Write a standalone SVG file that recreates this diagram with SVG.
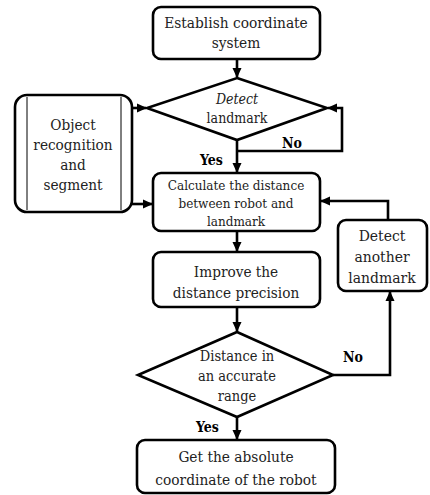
<svg xmlns="http://www.w3.org/2000/svg" width="430" height="495" viewBox="0 0 430 495">
<style>
.box{fill:#fff;stroke:#000;stroke-width:2.6}
text{font-family:'DejaVu Serif Condensed','DejaVu Serif',serif;font-stretch:condensed}
.t{font-size:14px;fill:#222;text-anchor:middle}
.it{font-style:italic}
.lbl{font-size:14px;font-weight:bold;fill:#000}
.c{fill:none;stroke:#000;stroke-width:2.6}
</style>
<defs>
<marker id="ah" markerUnits="userSpaceOnUse" markerWidth="10" markerHeight="10" refX="9" refY="5" orient="auto">
<path d="M0,0.5 L10,5 L0,9.5 z" fill="#000"/>
</marker>
</defs>
<rect width="430" height="495" fill="#fff"/>
<g id="connectors">
<path class="c" d="M237,59 V77" marker-end="url(#ah)"/>
<path class="c" d="M237,140 V172" marker-end="url(#ah)"/>
<path class="c" d="M237,151 H342 V108 H328" marker-end="url(#ah)"/>
<path class="c" d="M132,108 H146" marker-end="url(#ah)"/>
<path class="c" d="M132,204 H152" marker-end="url(#ah)"/>
<path class="c" d="M237,231 V251" marker-end="url(#ah)"/>
<path class="c" d="M388,220 V201 H321" marker-end="url(#ah)"/>
<path class="c" d="M237,307 V331" marker-end="url(#ah)"/>
<path class="c" d="M333,375 H390 V292" marker-end="url(#ah)"/>
<path class="c" d="M237,417 V439" marker-end="url(#ah)"/>
<text class="lbl" x="282" y="148">No</text>
<text class="lbl" x="200" y="165">Yes</text>
<text class="lbl" x="343" y="362">No</text>
<text class="lbl" x="196" y="432">Yes</text>
</g>
<g id="establish">
<rect class="box" x="153" y="7" width="167" height="52" rx="8"/>
<text class="t" x="236" y="28" style="font-size:15.3px">Establish coordinate</text>
<text class="t" x="236" y="48" style="font-size:15.3px">system</text>
</g>
<g id="detect-landmark">
<polygon class="box" points="237,78 327,108 237,140 147,108"/>
<text class="t it" x="237" y="104">Detect</text>
<text class="t" x="237" y="123">landmark</text>
</g>
<g id="object">
<rect class="box" x="15" y="95" width="117" height="117" rx="12"/>
<line x1="27" y1="97" x2="27" y2="210" stroke="#000" stroke-width="1"/>
<line x1="121" y1="97" x2="121" y2="210" stroke="#000" stroke-width="1"/>
<text class="t" x="73" y="130" style="font-size:15.2px">Object</text>
<text class="t" x="73" y="150" style="font-size:15.2px">recognition</text>
<text class="t" x="73" y="170" style="font-size:15.2px">and</text>
<text class="t" x="73" y="190" style="font-size:15.2px">segment</text>
</g>
<g id="calculate">
<rect class="box" x="153" y="173" width="167" height="58" rx="8"/>
<text class="t" x="236" y="190" style="font-size:13.4px">Calculate the distance</text>
<text class="t" x="236" y="208" style="font-size:13.4px">between robot and</text>
<text class="t" x="236" y="226" style="font-size:13.4px">landmark</text>
</g>
<g id="improve">
<rect class="box" x="153" y="252" width="167" height="55" rx="8"/>
<text class="t" x="236" y="277" style="font-size:15.2px">Improve the</text>
<text class="t" x="236" y="298" style="font-size:15.2px">distance precision</text>
</g>
<g id="detect-another">
<rect class="box" x="338" y="220" width="89" height="71" rx="8"/>
<text class="t" x="382" y="241" style="font-size:15.5px">Detect</text>
<text class="t" x="382" y="262" style="font-size:15.5px">another</text>
<text class="t" x="382" y="283" style="font-size:15.5px">landmark</text>
</g>
<g id="distance">
<polygon class="box" points="237,332 333,375 237,417 138,375"/>
<text class="t" x="237" y="361" style="font-size:14.5px">Distance in</text>
<text class="t" x="237" y="381" style="font-size:14.5px">an accurate</text>
<text class="t" x="237" y="401" style="font-size:14.5px">range</text>
</g>
<g id="absolute">
<rect class="box" x="137" y="440" width="198" height="53" rx="8"/>
<text class="t" x="236" y="462" style="font-size:15.3px">Get the absolute</text>
<text class="t" x="236" y="485" style="font-size:15.3px">coordinate of the robot</text>
</g>
</svg>
